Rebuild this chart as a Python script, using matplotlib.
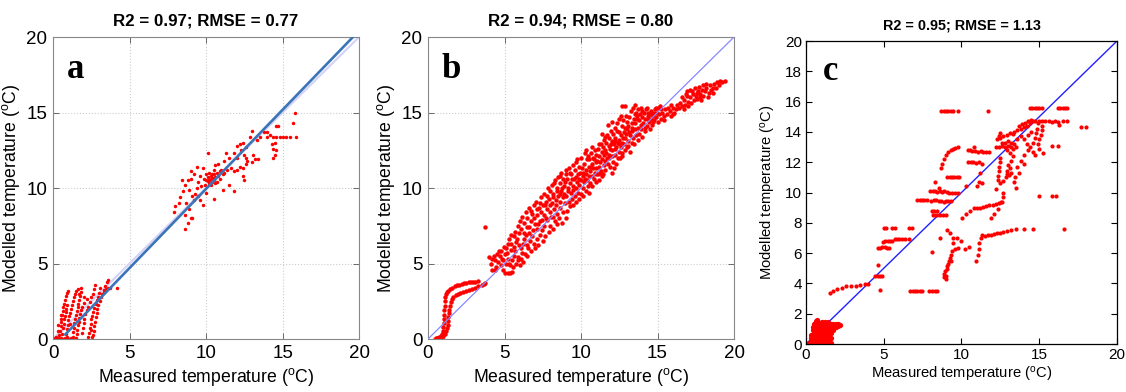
import numpy as np
import matplotlib
matplotlib.use("Agg")
import matplotlib.pyplot as plt

plt.rcParams['font.family'] = ['Liberation Sans', 'DejaVu Sans']
plt.rcParams['mathtext.fontset'] = 'custom'
plt.rcParams['mathtext.rm'] = 'Liberation Sans'
plt.rcParams['mathtext.it'] = 'Liberation Sans:italic'
plt.rcParams['mathtext.bf'] = 'Liberation Sans:bold'

# ---------------- data ----------------
titles = ["R2 = 0.97; RMSE = 0.77", "R2 = 0.94; RMSE = 0.80", "R2 = 0.95; RMSE = 1.13"]
panel_letters = ["a", "b", "c"]
xlabel_txt = r"Measured temperature ($^{\rm o}$C)"
ylabel_txt = r"Modelled temperature ($^{\rm o}$C)"
ticks_ab = [0, 5, 10, 15, 20]
xticks_c = [0, 5, 10, 15, 20]
yticks_c = [0, 2, 4, 6, 8, 10, 12, 14, 16, 18, 20]

# panel a : regression line end points and 1:1 line
fit_a_x = [0.8, 19.6]
fit_a_y = [0.3, 20.0]
one_to_one = [0, 20]

a_low = [
    (0.05, 0.02), (0.15, 0.05), (0.25, 0.0), (0.35, 0.05), (0.45, 0.02), (0.55, 0.08), (0.65, 0.0),
    (0.75, 0.05), (0.9, 0.1), (1.05, 0.02), (1.2, 0.05), (0.2, 0.12),
    (0.4, 0.25), (0.45, 0.55), (0.5, 0.85), (0.52, 1.1), (0.55, 1.35), (0.6, 1.6), (0.63, 1.85),
    (0.68, 2.1), (0.72, 2.35), (0.78, 2.6), (0.83, 2.85), (0.9, 3.05), (0.95, 3.15),
    (0.6, 0.3), (0.65, 0.7), (0.7, 1.0), (0.73, 1.3), (0.78, 1.55), (0.82, 1.8), (0.87, 2.0), (0.92, 2.25),
    (0.85, 0.35), (0.9, 0.65), (0.95, 0.95), (1.0, 1.25), (1.05, 1.5), (1.1, 1.75), (1.17, 2.0),
    (1.25, 2.25), (1.3, 2.5), (1.38, 2.75), (1.45, 2.95), (1.52, 3.15), (1.6, 3.3),
    (1.3, 0.15), (1.33, 0.45), (1.36, 0.75), (1.4, 1.05), (1.45, 1.35), (1.5, 1.6), (1.55, 1.85),
    (1.6, 2.1), (1.65, 2.35), (1.7, 2.6), (1.75, 2.85), (1.8, 3.1), (1.85, 3.35),
    (1.5, 0.05), (1.55, 0.3), (1.58, 0.6), (1.62, 0.9), (1.68, 1.15), (1.72, 1.4), (1.78, 1.65),
    (1.85, 1.9), (1.92, 2.15), (2.0, 2.4),
    (1.9, 0.4), (1.95, 0.75), (2.0, 1.05), (2.05, 1.35), (2.12, 1.65), (2.2, 1.9), (2.3, 2.15),
    (2.4, 2.45), (2.5, 2.75), (2.58, 3.0), (2.65, 3.3), (2.72, 3.55),
    (2.3, 0.1), (2.35, 0.4), (2.4, 0.7), (2.45, 1.0), (2.5, 1.3), (2.55, 1.55), (2.62, 1.8),
    (2.7, 2.05), (2.78, 2.3), (2.85, 2.55), (2.92, 2.8), (3.0, 3.05),
    (2.6, 0.25), (2.65, 0.55), (2.7, 0.85), (2.75, 1.15), (2.8, 1.45), (2.85, 1.75), (2.9, 2.0),
    (2.97, 2.25), (3.05, 2.5), (3.12, 2.75), (3.2, 3.0), (3.3, 3.25), (3.4, 3.5), (3.5, 3.75), (3.6, 3.9),
    (3.3, 3.1), (3.45, 3.3), (3.6, 3.4), (3.75, 3.35), (4.2, 3.4), (3.1, 3.35), (2.2, 2.65), (2.0, 2.8),
    (1.7, 3.0), (2.55, 0.15), (2.45, 0.6), (1.1, 1.0), (0.3, 0.5), (0.5, 1.6), (0.35, 0.9),
]
a_mid = [
    (7.9, 8.4), (8.0, 8.8), (8.2, 9.0), (8.3, 9.4), (8.5, 9.8), (8.6, 10.2), (8.8, 10.5), (9.0, 10.6),
    (8.4, 10.5), (8.7, 9.0), (8.9, 8.6), (9.0, 8.0), (8.8, 7.7), (9.2, 9.2), (9.3, 9.6), (9.4, 10.0),
    (9.5, 10.4), (9.6, 10.8), (9.2, 10.9), (9.0, 11.1), (9.4, 11.4), (9.8, 11.3), (10.0, 10.5),
    (10.1, 10.7), (10.2, 10.3), (10.3, 10.6), (10.4, 10.9), (10.5, 10.5), (10.6, 10.7), (10.7, 10.4),
    (10.8, 10.8), (10.0, 10.9), (9.9, 10.2), (10.2, 11.0), (10.5, 11.2), (10.7, 11.0), (10.9, 11.1),
    (11.0, 11.2), (11.2, 11.0), (11.4, 11.2), (11.6, 11.3), (11.8, 11.1), (12.0, 11.2), (12.2, 11.4),
    (10.1, 12.3), (10.8, 11.6), (11.2, 11.8), (11.5, 12.0), (11.8, 12.3), (12.0, 12.8), (12.2, 12.9),
    (12.4, 13.0), (12.6, 12.7), (12.5, 12.2), (12.6, 12.0), (12.7, 11.8), (12.4, 11.3), (11.5, 10.2),
    (11.1, 9.9), (11.8, 9.8), (10.5, 9.3), (9.6, 9.2), (9.8, 8.9), (12.3, 12.5), (12.0, 12.0),
    (12.9, 13.4), (12.6, 11.6), (12.5, 10.5), (12.4, 10.8), (13.1, 12.2), (13.0, 11.7), (13.2, 11.9),
    (10.3, 10.2), (10.4, 10.4), (10.6, 10.3), (9.7, 10.1), (9.5, 9.5), (8.6, 8.2), (9.1, 8.0),
    (8.6, 7.3), (10.0, 9.7), (11.3, 12.3), (10.6, 11.5), (10.2, 10.5), (10.45, 10.65), (10.35, 10.8),
    (10.15, 10.45), (10.55, 10.9), (9.85, 10.6), (10.9, 10.6), (11.1, 10.9), (8.9, 9.9), (9.1, 9.5),
]
a_high = [
    (13.5, 13.4), (13.8, 13.7), (14.0, 13.7), (14.2, 13.5), (14.4, 13.4), (14.6, 13.4), (14.8, 13.4),
    (15.0, 13.4), (15.2, 13.4), (15.5, 13.4), (15.9, 13.4), (14.3, 12.9), (14.4, 12.6), (14.4, 12.0),
    (14.5, 12.2), (14.6, 14.1), (14.7, 14.1), (15.7, 14.3), (15.8, 15.0), (13.4, 11.9), (13.0, 13.8),
    (14.5, 13.0), (14.6, 12.5), (13.3, 13.2), (14.0, 13.4),
]

# panel b
b_low = [
    (0.45, 0.0), (0.6, 0.05), (0.75, 0.1), (0.85, 0.2), (0.92, 0.35), (0.97, 0.55), (1.0, 0.8),
    (1.02, 1.05), (1.04, 1.3), (1.06, 1.6), (1.07, 1.9), (1.08, 2.2), (1.1, 2.5), (1.13, 2.75),
    (1.17, 2.95), (1.23, 3.1), (1.32, 3.2), (1.45, 3.3), (1.6, 3.4), (1.75, 3.48), (1.9, 3.55),
    (2.05, 3.6), (2.2, 3.65), (2.35, 3.68), (2.5, 3.72), (2.65, 3.75), (2.8, 3.77), (2.95, 3.79),
    (3.1, 3.8), (3.25, 3.82),
    (0.7, 0.0), (0.85, 0.1), (1.0, 0.2), (1.12, 0.35), (1.2, 0.5), (1.25, 0.7), (1.28, 0.95),
    (1.3, 1.2), (1.32, 1.45), (1.35, 1.7), (1.38, 1.95), (1.42, 2.2), (1.48, 2.45), (1.56, 2.65),
    (1.66, 2.8), (1.8, 2.9), (1.95, 2.97), (2.1, 3.02), (2.3, 3.08), (2.5, 3.15), (2.7, 3.22),
    (2.9, 3.3), (3.1, 3.4), (3.3, 3.5), (3.5, 3.6), (3.65, 3.65), (3.75, 3.7), (0.5, 0.05), (0.9, 0.05),
]
b_cloud = [
    (3.7, 7.4), (4.0, 5.4), (4.1, 5.0), (4.2, 4.6), (4.3, 5.5), (4.4, 5.2), (4.45, 4.8), (4.5, 5.6), (4.2, 5.3), (4.35, 4.55),
    (4.6, 5.1), (4.7, 5.5), (4.75, 4.9), (4.8, 5.8), (4.85, 5.3), (4.9, 4.6), (4.95, 6.1), (5.0, 5.6), (4.65, 5.8), (4.9, 5.2),
    (5.05, 4.4), (5.2, 4.4), (5.35, 4.4), (5.5, 4.45), (5.1, 5.0), (5.15, 5.7), (5.2, 6.3), (5.25, 5.3), (5.3, 6.6),
    (5.35, 4.9), (5.4, 5.9), (5.45, 6.9), (5.5, 5.2), (5.1, 6.0), (5.3, 5.0), (5.45, 6.3),
    (5.55, 4.8), (5.6, 5.5), (5.65, 6.1), (5.7, 7.1), (5.75, 5.0), (5.8, 6.6), (5.85, 7.5), (5.9, 5.4), (5.95, 6.2),
    (6.0, 4.9), (6.0, 7.8), (5.6, 6.8), (5.7, 5.8), (5.85, 5.2), (5.95, 7.0), (5.75, 6.4),
    (6.05, 5.3), (6.1, 6.0), (6.1, 7.3), (6.15, 8.1), (6.2, 5.1), (6.25, 6.6), (6.3, 7.7), (6.35, 5.6), (6.4, 8.4),
    (6.4, 6.9), (6.45, 6.2), (6.5, 7.4), (6.5, 5.5), (6.2, 6.3), (6.3, 7.0), (6.15, 5.7), (6.45, 8.0),
    (6.55, 6.0), (6.6, 8.7), (6.6, 7.0), (6.65, 6.5), (6.7, 7.8), (6.75, 5.8), (6.8, 8.3), (6.85, 7.2), (6.9, 6.3),
    (6.95, 8.9), (7.0, 7.6), (7.0, 6.0), (6.7, 8.5), (6.8, 6.8), (6.9, 8.0), (6.6, 7.4),
    (7.05, 9.1), (7.1, 6.6), (7.1, 8.2), (7.15, 7.3), (7.2, 6.2), (7.25, 8.7), (7.3, 7.8), (7.35, 6.9), (7.4, 9.4),
    (7.4, 8.4), (7.45, 7.2), (7.5, 6.5), (7.5, 8.9), (7.2, 7.6), (7.3, 9.0), (7.15, 8.6), (7.45, 7.9),
    (7.55, 9.6), (7.6, 7.5), (7.6, 8.2), (7.65, 6.8), (7.7, 9.1), (7.75, 8.6), (7.8, 7.9), (7.85, 10.0), (7.9, 7.1),
    (7.9, 9.3), (7.95, 8.4), (8.0, 9.8), (8.0, 7.5), (7.7, 8.0), (7.8, 9.5), (7.65, 8.9), (7.95, 8.9),
    (8.05, 8.1), (8.1, 10.2), (8.1, 9.0), (8.15, 7.3), (8.2, 9.6), (8.25, 8.6), (8.3, 10.5), (8.3, 7.8), (8.35, 9.2),
    (8.4, 10.0), (8.45, 8.3), (8.5, 9.5), (8.5, 10.7), (8.2, 8.1), (8.35, 8.9), (8.45, 9.8), (8.25, 10.3), (8.15, 9.4), (8.4, 7.6),
    (8.55, 8.0), (8.6, 9.1), (8.6, 10.3), (8.65, 8.7), (8.7, 11.0), (8.7, 9.8), (8.75, 7.7), (8.8, 9.4), (8.8, 10.6),
    (8.85, 8.4), (8.9, 10.1), (8.95, 9.0), (9.0, 11.2), (9.0, 8.0), (8.6, 9.6), (8.75, 10.0), (8.9, 9.6), (8.65, 10.8), (8.95, 10.4),
    (9.05, 9.5), (9.1, 10.6), (9.1, 8.5), (9.15, 10.0), (9.2, 11.3), (9.2, 9.1), (9.25, 10.3), (9.3, 8.8), (9.3, 11.0),
    (9.35, 9.7), (9.4, 10.6), (9.4, 9.3), (9.45, 11.5), (9.5, 10.1), (9.5, 8.9), (9.15, 9.8), (9.35, 10.9), (9.05, 10.9), (9.45, 9.9),
    (9.55, 10.6), (9.6, 9.5), (9.6, 11.2), (9.65, 10.0), (9.7, 11.7), (9.7, 9.1), (9.75, 10.4), (9.8, 10.9), (9.8, 9.7),
    (9.85, 11.4), (9.9, 10.2), (9.9, 9.3), (9.95, 11.0), (10.0, 12.0), (10.0, 10.5), (10.0, 9.6), (9.65, 10.7), (9.85, 10.6), (9.75, 11.9),
    (10.05, 11.3), (10.1, 10.0), (10.1, 10.8), (10.15, 9.5), (10.2, 11.6), (10.2, 10.4), (10.25, 12.3), (10.3, 10.9),
    (10.3, 9.8), (10.35, 11.2), (10.4, 10.5), (10.4, 11.9), (10.45, 10.1), (10.5, 11.4), (10.5, 10.8), (10.5, 9.7),
    (10.15, 11.0), (10.35, 12.5), (10.25, 10.6), (10.45, 12.1),
    (10.55, 11.9), (10.6, 10.3), (10.6, 11.1), (10.65, 12.3), (10.7, 10.8), (10.7, 11.6), (10.75, 10.1), (10.8, 12.0),
    (10.8, 11.3), (10.85, 10.6), (10.9, 12.5), (10.9, 11.0), (10.95, 11.7), (11.0, 10.4), (11.0, 12.2), (11.0, 11.3),
    (10.65, 11.4), (10.85, 11.9), (10.75, 12.7), (10.95, 10.9),
    (11.05, 11.8), (11.1, 10.9), (11.1, 12.6), (11.15, 11.4), (11.2, 10.5), (11.2, 12.1), (11.25, 11.7), (11.3, 12.9),
    (11.3, 11.1), (11.35, 12.4), (11.4, 10.8), (11.4, 11.9), (11.45, 12.7), (11.5, 11.5), (11.5, 13.2), (11.5, 12.2),
    (11.15, 12.9), (11.25, 11.0), (11.45, 10.9), (11.35, 13.6),
    (11.55, 11.8), (11.6, 12.5), (11.6, 11.2), (11.65, 13.0), (11.7, 12.0), (11.7, 13.5), (11.75, 11.6), (11.8, 12.8),
    (11.8, 12.2), (11.85, 13.3), (11.9, 11.4), (11.9, 12.6), (11.95, 13.8), (12.0, 12.1), (12.0, 13.1), (12.0, 11.0),
    (11.65, 12.3), (11.85, 12.0), (11.75, 14.2), (11.95, 12.9), (11.55, 13.4),
    (12.05, 12.5), (12.1, 13.6), (12.1, 11.7), (12.15, 12.9), (12.2, 14.0), (12.2, 12.2), (12.25, 13.3), (12.3, 11.6),
    (12.3, 12.7), (12.35, 14.3), (12.4, 13.0), (12.4, 12.0), (12.45, 13.7), (12.5, 12.4), (12.5, 14.6), (12.5, 13.2),
    (12.15, 11.3), (12.25, 12.6), (12.35, 13.8), (12.45, 12.9), (12.2, 13.1), (12.05, 14.4),
    (12.55, 12.0), (12.6, 13.5), (12.6, 12.7), (12.65, 14.1), (12.7, 13.0), (12.7, 12.3), (12.75, 14.5), (12.8, 13.7),
    (12.8, 12.9), (12.85, 15.4), (12.9, 13.3), (12.9, 12.5), (12.95, 14.8), (13.0, 13.9), (13.0, 12.7), (13.0, 14.4),
    (12.65, 12.1), (12.75, 13.3), (12.85, 14.0), (12.95, 13.6), (12.6, 14.8), (12.7, 15.4),
    (13.05, 13.1), (13.1, 14.1), (13.1, 12.8), (13.15, 14.7), (13.2, 13.5), (13.25, 15.1), (13.3, 13.0), (13.3, 14.3),
    (13.35, 13.8), (13.4, 15.3), (13.4, 13.3), (13.45, 14.6), (13.5, 13.9), (13.5, 14.9), (13.2, 12.4), (13.35, 14.0),
    (13.45, 12.9), (13.15, 13.7), (13.5, 15.5),
    (13.55, 14.3), (13.6, 13.5), (13.6, 15.0), (13.65, 14.6), (13.7, 14.0), (13.75, 15.2), (13.8, 13.6), (13.8, 14.5),
    (13.85, 14.9), (13.9, 14.2), (13.95, 13.9), (14.0, 14.7), (14.0, 15.1), (13.7, 13.2), (13.9, 15.3), (14.0, 13.4), (13.65, 14.8),
    (14.05, 14.3), (14.1, 15.0), (14.15, 13.8), (14.2, 14.6), (14.25, 15.2), (14.3, 14.1), (14.35, 14.8), (14.4, 15.0),
    (14.45, 14.4), (14.5, 14.9), (14.5, 13.9), (14.2, 14.0), (14.4, 14.6), (14.3, 15.3),
    (14.55, 14.6), (14.6, 15.1), (14.65, 14.2), (14.7, 14.8), (14.75, 15.0), (14.8, 14.5), (14.85, 15.2), (14.9, 14.7),
    (14.95, 15.0), (15.0, 14.4), (15.0, 15.3), (14.7, 14.4), (14.9, 15.3), (14.6, 14.9),
    (15.1, 14.9), (15.2, 15.2), (15.25, 14.6), (15.3, 15.0), (15.4, 14.8), (15.5, 15.2), (15.6, 14.9), (15.7, 15.3),
    (15.8, 15.1), (15.9, 14.8), (16.0, 15.3), (16.1, 15.0), (15.45, 14.5), (15.85, 15.5), (16.2, 15.2), (16.3, 15.5),
    (15.15, 15.4), (16.0, 14.9),
    (16.4, 15.3), (16.5, 15.6), (16.6, 15.4), (16.7, 15.8), (16.8, 15.5), (16.9, 16.1), (17.0, 15.7), (16.6, 16.0),
    (16.95, 16.4), (17.0, 15.4), (16.75, 15.2), (16.85, 16.2),
    (17.1, 16.0), (17.15, 16.5), (17.2, 15.6), (17.3, 16.2), (17.4, 15.8), (17.45, 16.6), (17.5, 16.1), (17.6, 15.9),
    (17.65, 16.4), (17.7, 16.7), (17.8, 16.2), (17.85, 15.8), (17.9, 16.5), (18.0, 16.1), (18.0, 16.8), (17.25, 16.4),
    (17.55, 16.3), (17.75, 16.0),
    (18.1, 16.4), (18.2, 16.6), (18.3, 16.0), (18.4, 16.8), (18.5, 16.5), (18.6, 16.3), (18.7, 16.9), (18.8, 16.6),
    (18.9, 17.0), (19.0, 16.8), (19.2, 17.0), (19.4, 17.1), (18.35, 16.3), (18.65, 16.6), (18.2, 16.9), (19.1, 17.1),
]

# panel c
c_blob = [
    (0.2, 0.0), (0.22, 0.1), (0.3, 0.0), (0.3, 0.2), (0.32, 0.4), (0.35, 0.6),
    (0.4, 0.0), (0.4, 0.3), (0.42, 0.6), (0.44, 0.9), (0.45, 1.1),
    (0.5, 0.1), (0.5, 0.4), (0.52, 0.7), (0.5, 1.0), (0.53, 1.3),
    (0.6, 0.0), (0.6, 0.3), (0.62, 0.6), (0.6, 0.9), (0.61, 1.2), (0.63, 1.5),
    (0.7, 0.1), (0.7, 0.4), (0.71, 0.7), (0.7, 1.0), (0.72, 1.3), (0.7, 1.6),
    (0.8, 0.0), (0.8, 0.3), (0.81, 0.6), (0.8, 0.9), (0.82, 1.2), (0.8, 1.45),
    (0.9, 0.15), (0.9, 0.45), (0.91, 0.75), (0.9, 1.05), (0.92, 1.35),
    (1.0, 0.0), (1.0, 0.3), (1.01, 0.6), (1.0, 0.9), (1.02, 1.2), (1.0, 1.45),
    (1.1, 0.1), (1.1, 0.4), (1.11, 0.7), (1.1, 1.0), (1.12, 1.3),
    (1.2, 0.0), (1.2, 0.3), (1.21, 0.6), (1.2, 0.9), (1.22, 1.2), (1.2, 1.45),
    (1.3, 0.15), (1.3, 0.45), (1.31, 0.75), (1.3, 1.05), (1.32, 1.35),
    (1.4, 0.05), (1.4, 0.3), (1.41, 0.6), (1.4, 0.9), (1.42, 1.2), (1.4, 1.45),
    (1.5, 0.2), (1.5, 0.5), (1.51, 0.8), (1.5, 1.1), (1.52, 1.35),
    (1.6, 0.1), (1.6, 0.4), (1.61, 0.7), (1.6, 1.0), (1.62, 1.3),
    (1.75, 0.9), (1.75, 1.15), (1.76, 1.35), (1.9, 1.1), (1.9, 1.3), (2.05, 1.2), (2.05, 1.35), (2.2, 1.25),
    (0.55, 0.25), (0.65, 0.85), (0.85, 0.5), (1.05, 0.8), (1.25, 0.5), (1.45, 0.9), (0.75, 1.2), (1.15, 1.4),
]
c_curve = [
    (1.55, 3.35), (1.75, 3.5), (2.0, 3.6), (2.3, 3.7), (2.6, 3.8), (2.9, 3.82), (3.2, 3.85), (3.5, 3.9),
    (3.8, 3.95), (4.0, 3.95),
]
c_mid = [
    (4.45, 4.5), (4.6, 4.5), (4.75, 4.5), (4.9, 4.5), (4.75, 3.55), (4.65, 5.2),
    (4.6, 6.35), (4.75, 6.35), (4.9, 6.4), (5.05, 6.4), (5.2, 6.35), (5.35, 6.35),
    (4.95, 6.75), (5.1, 6.8), (5.25, 6.8), (5.4, 6.8), (5.55, 6.8),
    (5.7, 6.9), (5.85, 6.9), (6.0, 6.9), (6.15, 6.9), (6.35, 6.9), (6.6, 6.9),
    (5.0, 7.65), (5.15, 7.65), (5.55, 7.65), (5.7, 7.65), (6.65, 7.65), (6.8, 7.65),
    (6.7, 3.5), (6.85, 3.5), (7.0, 3.5), (7.15, 3.5), (7.3, 3.5), (7.45, 3.5), (7.9, 3.5), (8.1, 3.5),
    (8.3, 3.5), (8.45, 3.5),
    (7.15, 9.5), (7.3, 9.5), (7.45, 9.5), (7.6, 9.5), (7.75, 9.5), (8.05, 9.45), (8.2, 9.5), (8.35, 9.5),
    (8.55, 9.45), (8.7, 9.45), (8.85, 9.4), (9.0, 9.45), (9.15, 9.45), (9.3, 9.45),
    (8.0, 10.1), (8.15, 10.1), (8.3, 10.1), (8.45, 10.05), (8.6, 10.1), (8.75, 10.05), (8.9, 10.1),
    (9.05, 10.05), (9.2, 10.0), (9.4, 10.0), (9.6, 10.0), (9.8, 10.0),
    (8.1, 8.8), (8.25, 8.8), (8.4, 8.75), (8.15, 8.5), (8.3, 8.5), (8.45, 8.5), (8.6, 8.5), (8.8, 8.5), (9.0, 8.5),
    (8.3, 10.7), (8.55, 10.3),
    (8.7, 11.6), (8.75, 11.9), (8.85, 12.2), (9.0, 12.45), (9.15, 12.65), (9.3, 12.8), (9.45, 12.9),
    (9.6, 12.95), (9.75, 13.0),
    (9.1, 11.0), (9.25, 11.0), (9.4, 11.0), (9.55, 11.0), (9.7, 11.0), (9.85, 11.0),
    (8.7, 15.4), (8.85, 15.4), (9.0, 15.4), (9.15, 15.4), (9.3, 15.4), (9.45, 15.4), (9.8, 15.4), (11.7, 15.4),
    (10.4, 12.8), (10.55, 12.8), (10.7, 12.75), (10.9, 12.75), (11.05, 12.7), (11.25, 12.75), (11.4, 12.7),
    (11.6, 12.7), (11.8, 12.7), (10.8, 13.0),
    (10.45, 12.0), (10.6, 12.0), (10.75, 12.0), (10.95, 11.95), (11.1, 12.0), (11.3, 11.9),
    (11.2, 11.3), (11.1, 10.7), (11.3, 10.6), (11.0, 10.4), (10.3, 10.4),
    (8.1, 6.1), (8.6, 7.0),
    (8.85, 4.4), (8.9, 4.6), (8.95, 4.8), (9.0, 4.5), (9.05, 4.95), (9.1, 5.15), (9.15, 5.3), (9.2, 5.5),
    (9.25, 5.7), (9.35, 5.9), (9.4, 6.15), (9.6, 6.3), (9.8, 6.35), (10.2, 6.3), (10.5, 6.4), (9.3, 5.5), (9.0, 4.3),
    (9.25, 7.3), (9.05, 7.5), (9.45, 7.0), (9.7, 7.0), (10.0, 6.8), (9.45, 6.7),
    (10.05, 8.3), (10.3, 8.55), (10.55, 8.8), (10.8, 8.95), (11.0, 9.0), (11.2, 9.0), (11.4, 9.05),
    (11.6, 9.1), (11.8, 9.15), (12.0, 9.2), (12.2, 9.25), (12.4, 9.3), (12.6, 9.35),
    (11.9, 8.3), (12.1, 8.6), (12.35, 8.9), (12.55, 9.4), (12.65, 9.7), (12.7, 10.0),
    (10.95, 5.5), (11.05, 5.9), (11.1, 6.3), (11.15, 6.7), (11.25, 7.0), (11.35, 7.2),
    (11.5, 7.15), (11.7, 7.2), (11.9, 7.2), (12.1, 7.25), (12.3, 7.3), (12.5, 7.35), (12.7, 7.4),
    (12.9, 7.45), (13.2, 7.5), (13.5, 7.6), (14.0, 7.6), (14.6, 7.6), (16.6, 7.6),
    (12.25, 10.25), (12.5, 10.6), (12.7, 10.75), (12.85, 11.0), (12.9, 11.25), (13.05, 11.15),
    (12.95, 11.45), (13.1, 11.6), (13.2, 11.3), (13.5, 10.3), (13.4, 10.7), (13.45, 11.0),
    (12.35, 10.8), (12.35, 11.1), (12.4, 11.4), (12.4, 11.7), (12.45, 12.0), (12.5, 12.3),
    (13.6, 11.7), (13.85, 12.1), (14.05, 12.5), (14.3, 12.8), (14.0, 11.9), (13.7, 11.3),
    (15.0, 9.75), (15.8, 9.75), (16.1, 9.75),
    (17.7, 14.3), (18.0, 14.3),
]
c_high = [
    (14.4, 15.6), (14.55, 15.6), (14.7, 15.6), (14.85, 15.6), (15.0, 15.6), (15.15, 15.6),
    (16.2, 15.6), (16.35, 15.6), (16.5, 15.6), (16.65, 15.6), (16.8, 15.6),
    (12.2, 13.0), (12.4, 13.0), (12.6, 13.05), (12.8, 13.0), (13.0, 13.1), (13.2, 13.0), (12.3, 13.5),
    (12.5, 13.6), (12.7, 13.7), (12.9, 13.8), (13.1, 13.9), (13.3, 13.85), (12.5, 13.9), (12.4, 13.7),
    (12.6, 13.3), (12.8, 13.3), (13.0, 13.4), (13.2, 13.3), (13.4, 13.2), (12.9, 12.8), (13.1, 12.6),
    (13.3, 12.9), (13.5, 13.0),
    (13.4, 14.0), (13.6, 14.1), (13.8, 14.2), (14.0, 14.3), (14.2, 14.4), (14.4, 14.6), (14.6, 14.7),
    (13.7, 14.4), (13.9, 14.5), (14.1, 14.6), (14.3, 14.75), (14.5, 14.8), (14.7, 14.75), (14.9, 14.6),
    (15.0, 14.7), (15.2, 14.7), (15.4, 14.7), (15.6, 14.7), (15.8, 14.65), (16.0, 14.7), (16.2, 14.65),
    (16.5, 14.7), (16.8, 14.7), (16.3, 14.45),
    (13.6, 13.5), (13.8, 13.7), (14.0, 13.5), (14.2, 13.2), (14.4, 13.0), (14.6, 12.7), (14.6, 13.3),
    (14.7, 13.6), (14.8, 13.9), (14.85, 14.2), (14.5, 14.0), (14.3, 13.8), (14.9, 13.2), (15.0, 13.5),
    (15.1, 13.8), (15.15, 14.1), (15.2, 14.4), (15.0, 12.9), (15.25, 12.6), (14.7, 12.5),
    (15.8, 13.1), (16.2, 13.1), (13.3, 12.4), (13.2, 12.1), (13.0, 11.8),
]


def xy(pairs):
    arr = np.array(pairs, dtype=float)
    return arr[:, 0], arr[:, 1]


fig = plt.figure(figsize=(11.26, 3.92), dpi=100)
ax_a = fig.add_axes([0.0471, 0.1352, 0.2718, 0.7704])
ax_b = fig.add_axes([0.3801, 0.1352, 0.2718, 0.7704])
ax_c = fig.add_axes([0.7158, 0.1224, 0.2762, 0.7730])

red = '#ff0000'

# ---- panel a / b styling
for ax in (ax_a, ax_b):
    ax.set_xlim(0, 20)
    ax.set_ylim(0, 20)
    ax.set_xticks(ticks_ab)
    ax.set_yticks(ticks_ab)
    ax.grid(True, linestyle=':', color='#cccccc', linewidth=0.8)
    ax.set_axisbelow(True)
    ax.tick_params(direction='in', top=True, right=True, length=4, width=0.6,
                   labelsize=13.5, color='#555555', pad=4)
    for s in ax.spines.values():
        s.set_color('#888888')
        s.set_linewidth(0.8)
    ax.set_xlabel(xlabel_txt, fontsize=12.7, labelpad=3)
    ax.set_ylabel(ylabel_txt, fontsize=12.7, labelpad=3)

ax_a.plot(one_to_one, one_to_one, color='#d4d4f7', linewidth=1.6, zorder=1)
for pts in (a_low, a_mid, a_high):
    x, y = xy(pts)
    ax_a.plot(x, y, linestyle='none', marker='o', markersize=2.5, color=red,
              markeredgewidth=0, zorder=2)
ax_a.plot(fit_a_x, fit_a_y, color='#3c74b8', linewidth=1.9, zorder=3)
ax_a.set_title(titles[0], fontsize=12.2, fontweight='bold', pad=8)

for pts in (b_low, b_cloud):
    x, y = xy(pts)
    ax_b.plot(x, y, linestyle='none', marker='o', markersize=3.2, color=red,
              markeredgewidth=0, zorder=2)
ax_b.plot(one_to_one, one_to_one, color='#8888ff', linewidth=0.9, zorder=3)
ax_b.set_title(titles[1], fontsize=12.2, fontweight='bold', pad=8)

# ---- panel c styling
ax_c.set_xlim(0, 20)
ax_c.set_ylim(0, 20)
ax_c.set_xticks(xticks_c)
ax_c.set_yticks(yticks_c)
ax_c.tick_params(direction='in', top=True, right=True, length=4, width=0.8,
                 labelsize=11, pad=3)
for s in ax_c.spines.values():
    s.set_color('#000000')
    s.set_linewidth(0.9)
ax_c.set_xlabel(xlabel_txt, fontsize=10.6, labelpad=2)
ax_c.set_ylabel(ylabel_txt, fontsize=10.6, labelpad=5)
ax_c.plot(one_to_one, one_to_one, color='#2020ff', linewidth=1.0, zorder=1)
x, y = xy(c_blob)
ax_c.plot(x, y, linestyle='none', marker='o', markersize=3.8, color=red,
          markeredgewidth=0, zorder=2)
for pts in (c_curve, c_mid, c_high):
    x, y = xy(pts)
    ax_c.plot(x, y, linestyle='none', marker='o', markersize=3.0, color=red,
              markeredgewidth=0, zorder=2)
ax_c.set_title(titles[2], fontsize=10.4, fontweight='bold', pad=8)

# panel letters
for ax, letter, (lx, ly) in zip((ax_a, ax_b, ax_c), panel_letters,
                                ((0.045, 0.865), (0.045, 0.865), (0.055, 0.87))):
    ax.text(lx, ly, letter, transform=ax.transAxes, fontsize=25, fontweight='bold',
            family='Liberation Serif', ha='left', va='baseline')

fig.savefig('out.png', dpi=100)
